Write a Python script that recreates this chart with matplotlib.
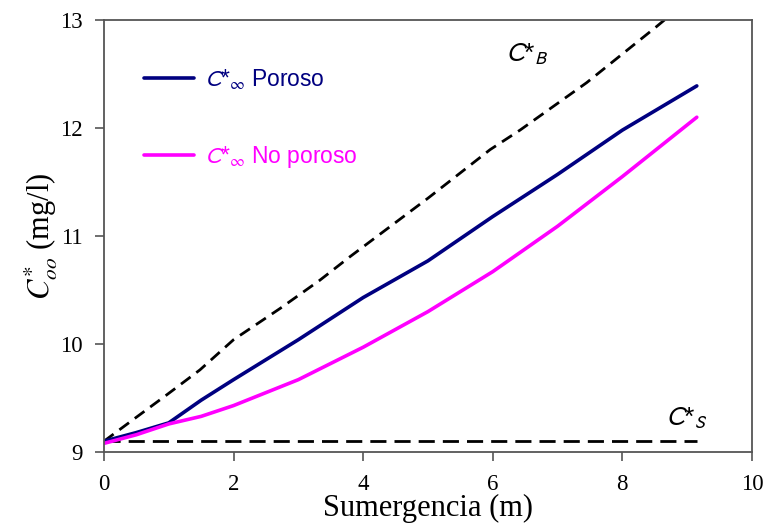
import matplotlib
matplotlib.use("Agg")
import matplotlib.pyplot as plt

# Sumergencia (m) and saturation concentrations (mg/l)
x_poroso = [0, 0.5, 1.0, 1.5, 2.0, 3.0, 4.0, 5.0, 6.0, 7.0, 8.0, 9.15]
c_poroso = [9.1, 9.18, 9.27, 9.48, 9.67, 10.04, 10.43, 10.77, 11.18, 11.57, 11.98, 12.39]

x_no_poroso = [0, 0.5, 1.0, 1.5, 2.0, 3.0, 4.0, 5.0, 6.0, 7.0, 8.0, 9.15]
c_no_poroso = [9.08, 9.16, 9.26, 9.33, 9.43, 9.67, 9.97, 10.3, 10.67, 11.09, 11.55, 12.1]

x_b = [0, 0.45, 0.97, 1.48, 2.0, 2.72, 3.33, 3.8, 5.0, 5.96, 6.42, 7.45, 8.53, 9.15]
c_b = [9.1, 9.3, 9.53, 9.76, 10.04, 10.33, 10.59, 10.81, 11.35, 11.8, 11.98, 12.42, 12.94, 13.25]

x_s = [0, 9.15]
c_s = [9.1, 9.1]

navy = "#000080"
magenta = "#ff00ff"
spine = "#555555"

plt.rcParams["mathtext.fontset"] = "stix"

fig = plt.figure(figsize=(7.68, 5.27), dpi=100)
ax = fig.add_axes([0.1354, 0.1423, 0.8436, 0.8197])

ax.plot(x_b, c_b, color="black", lw=2.0, dashes=(4.3, 2.6))
ax.plot(x_s, c_s, color="black", lw=2.0, dashes=(5.8, 2.9))
l1, = ax.plot(x_poroso, c_poroso, color=navy, lw=2.6, solid_capstyle="round")
l2, = ax.plot(x_no_poroso, c_no_poroso, color=magenta, lw=2.6, solid_capstyle="round")

ax.set_xlim(0, 10)
ax.set_ylim(9, 13)
ax.set_xticks([0, 2, 4, 6, 8, 10])
ax.set_yticks([9, 10, 11, 12, 13])

serif = ["Liberation Serif", "DejaVu Serif"]
for lab in ax.get_xticklabels() + ax.get_yticklabels():
    lab.set_fontfamily(serif)
    lab.set_fontsize(16.5)
ax.tick_params(direction="out", length=6.5, width=1.2, color=spine)
ax.tick_params(axis="x", pad=9.5)
ax.tick_params(axis="y", pad=9)
for s in ax.spines.values():
    s.set_color(spine)
    s.set_linewidth(1.3)

ax.set_xlabel("Sumergencia (m)", fontfamily=serif, fontsize=22, labelpad=-1)
ax.set_ylabel(r"$C^{*}_{oo}$ (mg/l)", fontfamily=serif, fontsize=22, labelpad=0)

leg = ax.legend([l1, l2],
                [r"$C$*$_{\infty}$ Poroso", r"$C$*$_{\infty}$ No poroso"],
                loc="upper left", bbox_to_anchor=(0.03, 0.94), frameon=False,
                handlelength=2.2, handletextpad=0.45, labelspacing=2.35,
                prop={"family": "Liberation Sans", "size": 16.5})
for t, c in zip(leg.get_texts(), [navy, magenta]):
    t.set_color(c)
    t.set_math_fontfamily("stixsans")

ax.text(6.2, 12.62, r"$C$*$_{B}$", fontsize=19, fontfamily="Liberation Sans",
        color="black", math_fontfamily="stixsans")
ax.text(8.68, 9.25, r"$C$*$_{S}$", fontsize=19, fontfamily="Liberation Sans",
        color="black", math_fontfamily="stixsans")

fig.savefig("out.png", dpi=100)
